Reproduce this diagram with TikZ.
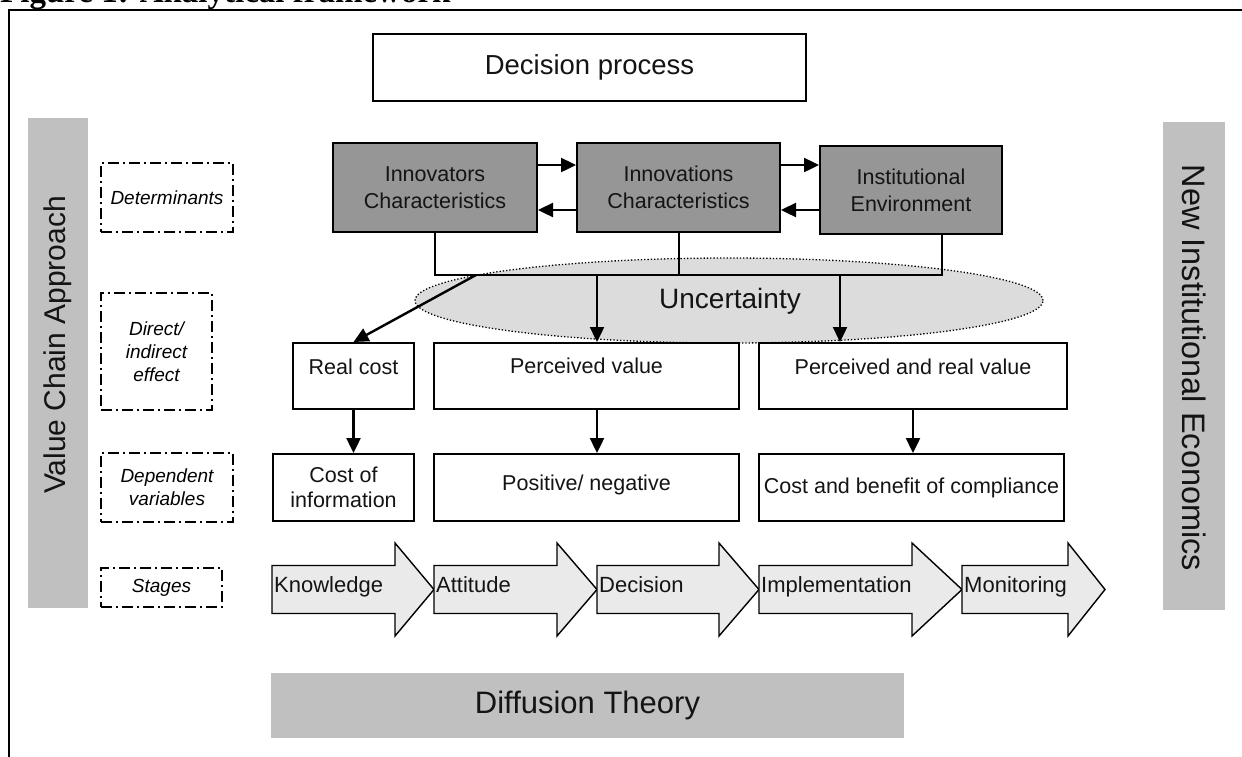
\documentclass[tikz,border=0pt]{standalone}
\usepackage{fontspec}
\setmainfont{Liberation Sans}
\newfontfamily\titlefont{Liberation Serif}
\usetikzlibrary{shapes.geometric,arrows.meta}
\definecolor{gboxfill}{RGB}{150,150,150}
\definecolor{sidegray}{RGB}{192,192,192}
\definecolor{uncfill}{RGB}{220,220,220}
\definecolor{stagefill}{RGB}{234,234,234}
\definecolor{txt}{RGB}{20,20,20}
\tikzset{
  boxfont/.style={font=\fontsize{21.5}{25}\selectfont},
  wbox/.style={draw, line width=2pt, fill=white, inner sep=0pt, align=center, text=txt, boxfont},
  gbox/.style={draw, line width=2pt, fill=gboxfill, inner sep=0pt, align=center, text=txt, font=\fontsize{21.5}{27}\selectfont},
  dbox/.style={draw, line width=1.8pt, dash pattern=on 11pt off 4pt on 2pt off 4pt, inner sep=0pt, align=center, font=\itshape\fontsize{19}{23}\selectfont},
  sidebar/.style={fill=sidegray, inner sep=0pt},
  arr/.style={-{Triangle[length=15pt,width=14pt]}, line width=2.4pt},
  conn/.style={line width=2pt},
  stagepath/.style={draw, line width=1.4pt, fill=stagefill},
  stagetxt/.style={inner sep=0pt, anchor=base west, font=\fontsize{22}{24}\selectfont, text=txt},
  plain/.style={inner sep=0pt, text=txt, boxfont},
}
\newcommand\stagearr[5]{%
  \draw[stagepath] (#1,565.5) -- (#2,565.5) -- (#2,543) -- (#3,589.5) -- (#2,636) -- (#2,613.5) -- (#1,613.5) -- cycle;
  \node[stagetxt] (#4) at (#1+2,592) {#5};}
\begin{document}
\begin{tikzpicture}[x=1pt,y=-1pt]
\useasboundingbox (0,0) rectangle (1242,756);
\fill[white] (0,0) rectangle (1242,756);
% title (cut by the page edge)
\node[anchor=base west, inner sep=0pt, font=\titlefont\bfseries\fontsize{33}{36}\selectfont] (title) at (0,2) {Figure 1: Analytical framework};
% frame
\draw[line width=2.2pt] (9,780) -- (9,10) -- (1270,10);
% decision process
\node[wbox, minimum width=433pt, minimum height=67pt, font=\fontsize{27.5}{30}\selectfont] (dp) at (589.5,67.5) {Decision process};
% side bars
\node[sidebar, minimum width=60pt, minimum height=490pt] (vca) at (58,363) {};
\node[rotate=90, inner sep=0pt, font=\fontsize{30}{32}\selectfont, text=txt] (vcat) at (58,345) {Value Chain Approach};
\node[sidebar, minimum width=62pt, minimum height=488pt] (nie) at (1194,366) {};
\node[rotate=-90, inner sep=0pt, font=\fontsize{32.5}{34}\selectfont, text=txt] (niet) at (1194,368) {New Institutional Economics};
% dash-dot labels
\node[dbox, minimum width=132pt, minimum height=69pt] (det) at (167,197.5) {Determinants};
\node[dbox, minimum width=111pt, minimum height=117pt] (dir) at (156.5,351.5) {Direct/\\indirect\\effect};
\node[dbox, minimum width=132pt, minimum height=69pt] (dep) at (167,487.5) {Dependent\\variables};
\node[dbox, minimum width=121pt, minimum height=39pt] (stg) at (161.5,587.5) {Stages};
% uncertainty ellipse
\node[ellipse, draw, line width=1.3pt, dotted, fill=uncfill, minimum width=628pt, minimum height=85pt, inner sep=0pt] (unc) at (729,300.5) {};
\node[inner sep=0pt, font=\fontsize{28}{32}\selectfont, text=txt] (unct) at (730,301) {Uncertainty};
% gray determinant boxes
\node[gbox, minimum width=204pt, minimum height=89pt] (inv) at (435,187.5) {Innovators\\Characteristics};
\node[gbox, minimum width=203pt, minimum height=89pt] (ino) at (678.5,187.5) {Innovations\\Characteristics};
\node[gbox, minimum width=182pt, minimum height=88pt] (ins) at (911,190) {Institutional\\Environment};
\draw[arr] ([yshift=22.5pt]inv.east) -- ([yshift=22.5pt]ino.west);
\draw[arr] ([yshift=-22.5pt]ino.west) -- ([yshift=-22.5pt]inv.east);
\draw[arr] ([yshift=22.5pt]ino.east) -- ([yshift=22.5pt]ino.east -| ins.west);
\draw[arr] ([yshift=-22.5pt]ino.east -| ins.west) -- ([yshift=-22.5pt]ino.east);
% effect boxes
\node[wbox, minimum width=121pt, minimum height=66pt] (rc) at (353.5,376) {};
\node[wbox, minimum width=305pt, minimum height=66pt] (pv) at (586.5,376) {};
\node[wbox, minimum width=308pt, minimum height=66pt] (prv) at (913,376) {};
\node[plain] (rct) at (353.5,367) {Real cost};
\node[plain] (pvt) at (586.5,366) {Perceived value};
\node[plain] (prvt) at (913,367) {Perceived and real value};
% dependent boxes
\node[wbox, minimum width=141pt, minimum height=67pt] (coi) at (343.5,487.5) {Cost of\\information};
\node[wbox, minimum width=305pt, minimum height=67pt] (pn) at (586.5,487.5) {};
\node[plain] (pnt) at (586.5,485) {Positive/ negative};
\node[wbox, minimum width=305pt, minimum height=67pt] (cbc) at (911.5,487.5) {Cost and benefit of compliance};
% connectors from determinants
\coordinate (j1) at (435,275);
\coordinate (j2) at (678.5,275);
\coordinate (j3) at (942,275);
\coordinate (d0) at (476,275);
\coordinate (d1) at (597,275);
\coordinate (d2) at (840,275);
\draw[conn] (inv.south) -- (j1) -- (j3) -- (j3 |- ins.south);
\draw[conn] (ino.south) -- (j2);
\draw[arr] (d0) -- (rc.north);
\draw[arr] (d1) -- (d1 |- pv.north);
\draw[arr] (d2) -- (d2 |- prv.north);
% effect to dependent
\draw[arr] (rc.south) -- (rc.south |- coi.north);
\draw[arr] (d1 |- pv.south) -- (d1 |- pn.north);
\draw[arr] (prv.south) -- (prv.south |- cbc.north);
% stages
\stagearr{272}{395}{434}{kn}{Knowledge}
\stagearr{434}{557}{597}{at}{Attitude}
\stagearr{597}{719}{759}{de}{Decision}
\stagearr{759}{912}{962}{im}{Implementation}
\stagearr{962}{1068}{1105}{mo}{Monitoring}
% diffusion theory
\node[sidebar, minimum width=633pt, minimum height=65pt, text=txt, font=\fontsize{31}{34}\selectfont] (dt) at (587.5,705.5) {Diffusion Theory};
\end{tikzpicture}
\end{document}
